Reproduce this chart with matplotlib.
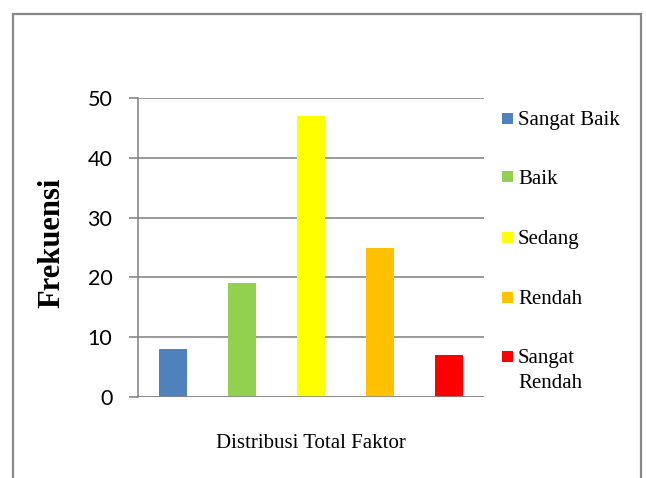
import matplotlib
matplotlib.use("Agg")
import matplotlib.pyplot as plt
from matplotlib.patches import Rectangle

categories = ["Sangat Baik", "Baik", "Sedang", "Rendah", "Sangat\nRendah"]
values = [8, 19, 47, 25, 7]
colors = ["#4F81BD", "#92D050", "#FFFF00", "#FFC000", "#FF0000"]
yticks = [0, 10, 20, 30, 40, 50]
xlabel = "Distribusi Total Faktor"
ylabel = "Frekuensi"

W, H = 646, 478
fig = plt.figure(figsize=(W / 100, H / 100), dpi=100)
fig.patch.set_facecolor("white")

# outer chart border (bottom edge lies beyond the image)
border = Rectangle((13 / W, -0.05), (641 - 13) / W, 1.05 - 14 / H,
                   transform=fig.transFigure, fill=False,
                   edgecolor="#878787", linewidth=1.6)
fig.patches.append(border)

ax = fig.add_axes([138 / W, 1 - 397 / H, 346 / W, 299 / H])
x = list(range(len(values)))
ax.bar(x, values, width=0.405, color=colors, zorder=3)
ax.set_xlim(-0.5, len(values) - 0.5)
ax.set_ylim(0, 50)
ax.set_yticks(yticks)
ax.set_yticklabels([str(t) for t in yticks], fontfamily="Lato", fontsize=15.5)
ax.set_xticks([])
ax.grid(axis="y", color="#878787", linewidth=1.2, zorder=0)
for s in ["top", "right", "bottom"]:
    ax.spines[s].set_visible(False)
ax.spines["left"].set_color("#878787")
ax.spines["left"].set_linewidth(1.2)
ax.axhline(0, color="#878787", linewidth=1.2, zorder=4)
ax.tick_params(axis="y", direction="out", length=6.5, width=1.2,
               color="#878787", pad=12)

fig.text(311 / W, 1 - 443 / H, xlabel, ha="center", va="center",
         fontfamily="Liberation Serif", fontsize=15)
fig.text(52 / W, 1 - 243 / H, ylabel, ha="center", va="center",
         rotation=90, fontfamily="Liberation Serif", fontweight="bold",
         fontsize=22)

# legend
centers = [118, 177, 237, 297, 356]
for lab, col, cy in zip(categories, colors, centers):
    fig.patches.append(Rectangle((502 / W, 1 - (cy + 5.5) / H), 11 / W, 11 / H,
                                 transform=fig.transFigure, facecolor=col,
                                 edgecolor="none"))
    fig.text(518 / W, 1 - (cy + 12) / H, lab.split("\n")[0], ha="left",
             va="bottom", fontfamily="Liberation Serif", fontsize=15)
    if "\n" in lab:
        fig.text(518 / W, 1 - (cy + 12 + 25) / H, lab.split("\n")[1],
                 ha="left", va="bottom", fontfamily="Liberation Serif",
                 fontsize=15)

fig.savefig("out.png", dpi=100)
